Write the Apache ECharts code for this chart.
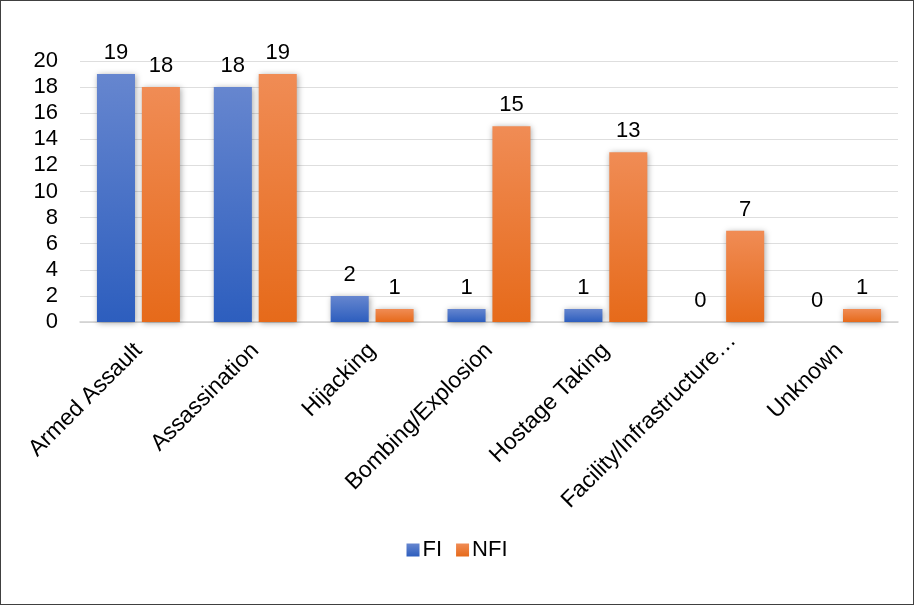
<!DOCTYPE html>
<html>
<head>
<meta charset="utf-8">
<script src="https://cdn.jsdelivr.net/npm/echarts@6/dist/echarts.min.js"></script>
<style>
html,body{margin:0;padding:0;background:#fff;}
#c{position:absolute;left:0;top:0;width:912px;height:603px;border:1px solid #404040;}
</style>
</head>
<body>
<div id="c"></div>
<script>
var categories = ['Armed Assault','Assassination','Hijacking','Bombing/Explosion','Hostage Taking','Facility/Infrastructure…','Unknown'];
var fiValues = [19, 18, 2, 1, 1, 0, 0];
var nfiValues = [18, 19, 1, 15, 13, 7, 1];
var yTicks = [0,2,4,6,8,10,12,14,16,18,20];

var chart = echarts.init(document.getElementById('c'));
var font = 'Liberation Sans, Arial, sans-serif';
var fs = 22;
function grad(top, bottom){
  return new echarts.graphic.LinearGradient(0,0,0,1,[{offset:0,color:top},{offset:1,color:bottom}]);
}
var catData = categories.map(function(c){
  if (c.indexOf('…') >= 0) return {value:c, textStyle:{padding:[0,-14,0,0]}};
  return c;
});
chart.setOption({
  animation:false,
  grid:{left:79, right:15, top:60, bottom:282, containLabel:false},
  legend:{
    bottom:38, left:'center',
    itemWidth:13, itemHeight:13, itemGap:14,
    icon:'rect',
    textStyle:{fontFamily:font, fontSize:fs, color:'#000', padding:[0,0,0,-2]},
    data:['FI','NFI']
  },
  xAxis:{
    type:'category', data:catData,
    axisLine:{lineStyle:{color:'#d0d0d0', width:1.5}},
    axisTick:{show:false},
    axisLabel:{rotate:45, fontFamily:font, fontSize:23, color:'#000', interval:0, margin:25}
  },
  yAxis:{
    type:'value', min:0, max:20, interval:2,
    axisLine:{show:false}, axisTick:{show:false},
    axisLabel:{fontFamily:font, fontSize:fs, color:'#000', margin:22,
      formatter:function(v){return yTicks.indexOf(v)>=0 ? String(v) : '';}},
    splitLine:{lineStyle:{color:'#dedede', width:1}}
  },
  series:[
    {name:'FI', type:'bar', data:fiValues, barGap:'18%', barCategoryGap:'29%',
     itemStyle:{color:grad('#6686cf','#2d5ebe'), shadowColor:'rgba(0,0,0,0.35)', shadowBlur:6, shadowOffsetX:1, shadowOffsetY:1},
     label:{show:true, position:'top', distance:10, fontFamily:font, fontSize:fs, color:'#000'}},
    {name:'NFI', type:'bar', data:nfiValues,
     itemStyle:{color:grad('#f08c55','#e66a1a'), shadowColor:'rgba(0,0,0,0.35)', shadowBlur:6, shadowOffsetX:1, shadowOffsetY:1},
     label:{show:true, position:'top', distance:10, fontFamily:font, fontSize:fs, color:'#000'}}
  ]
});
</script>
</body>
</html>
